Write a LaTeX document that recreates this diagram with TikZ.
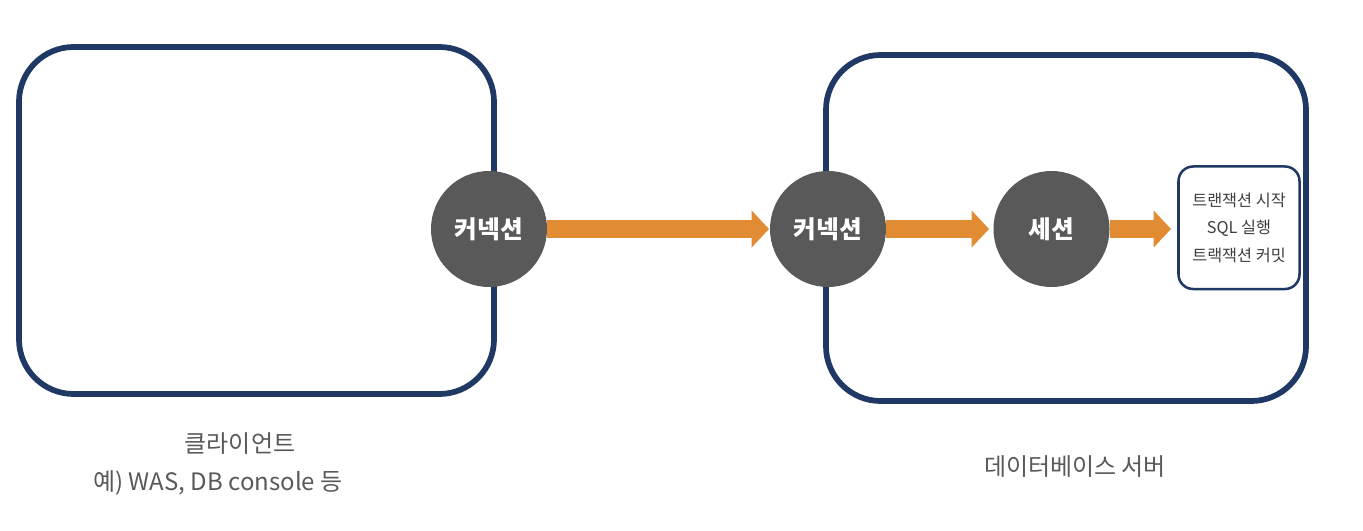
\documentclass[tikz,border=0pt]{standalone}
\usepackage{fontspec}
\setmainfont{Noto Sans CJK KR}
\usetikzlibrary{arrows.meta}
\definecolor{navy}{HTML}{1F3864}
\definecolor{circfill}{HTML}{595959}
\definecolor{orng}{HTML}{E18B32}
\definecolor{lbl}{HTML}{595959}
\definecolor{boxtxt}{HTML}{404040}
\begin{document}
\begin{tikzpicture}[x=0.75pt,y=-0.75pt,
  bigbox/.style={draw=navy, line width=4.3pt, rounded corners=41pt, inner sep=0pt},
  smallbox/.style={draw=navy, line width=1.9pt, rounded corners=11pt, fill=white, inner sep=0pt,
    minimum width=90.75pt, minimum height=91.9pt, align=center, text=boxtxt,
    font=\fontsize{12.2pt}{20.6pt}\selectfont},
  bubble/.style={circle, fill=circfill, minimum size=87pt, inner sep=0pt, text=white,
    font=\fontsize{18.5pt}{20pt}\selectfont\bfseries},
  flow/.style={draw=orng, line width=13.5pt, line cap=butt,
    -{Triangle[width=27pt,length=13pt]}},
  caption/.style={text=lbl, font=\fontsize{18pt}{20pt}\selectfont, inner sep=0pt}
]
\useasboundingbox (0,0) rectangle (1363,531);
\node[bigbox, minimum width=356.25pt, minimum height=260.25pt] (client) at (256.5,220.5) {};
\node[bigbox, minimum width=360pt, minimum height=259.5pt] (server) at (1066,228) {};
\node[bubble] (conn1) at (489,229) {커넥션};
\node[bubble] (conn2) at (828,229) {커넥션};
\node[bubble] (sess) at (1051.5,229) {세션};
\node[smallbox] (tx) at (1239,227.75) {트랜잭션 시작\\SQL 실행\\트랙잭션 커밋};
\coordinate (t1) at (769,229);
\coordinate (t2) at (989,229);
\coordinate (t3) at (1171,229);
\draw[flow] (conn1.east) -- (t1);
\draw[flow] (conn2.east) -- (t2);
\draw[flow] (sess.east) -- (t3);
\node[caption] (cl1) at (240,444) {클라이언트};
\node[caption] (cl2) at (218,483) {예) WAS, DB console 등};
\node[caption] (sv) at (1075,467) {데이터베이스 서버};
\end{tikzpicture}
\end{document}
